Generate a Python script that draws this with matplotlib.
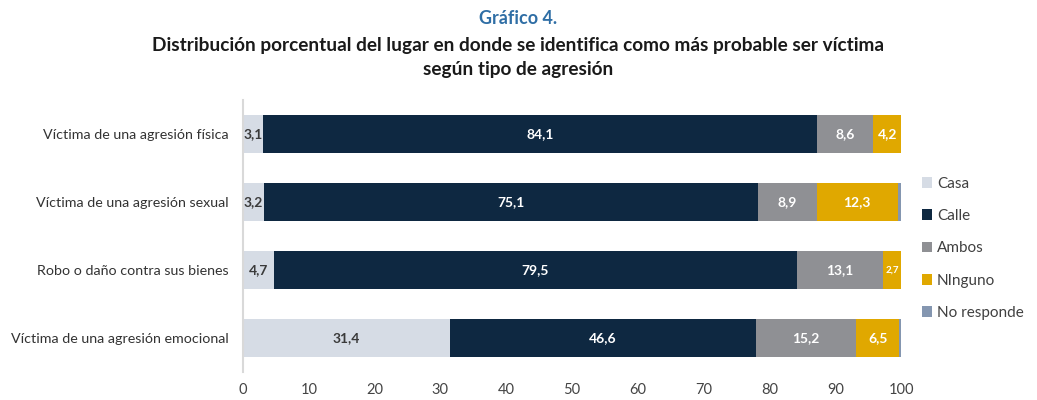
import numpy as np
import matplotlib.pyplot as plt
from matplotlib.patches import Patch

plt.rcParams['font.family'] = ['Lato', 'DejaVu Sans']

# data
categorias = ["Víctima de una agresión física",
              "Víctima de una agresión sexual",
              "Robo o daño contra sus bienes",
              "Víctima de una agresión emocional"]
series = ["Casa", "Calle", "Ambos", "NInguno", "No responde"]
casa = [3.1, 3.2, 4.7, 31.4]
calle = [84.1, 75.1, 79.5, 46.6]
ambos = [8.6, 8.9, 13.1, 15.2]
ninguno = [4.2, 12.3, 2.7, 6.5]
no_responde = [0.0, 0.5, 0.0, 0.3]

colores = ["#D6DCE5", "#0E2841", "#8F9094", "#E0A800", "#8496B0"]
txt_colores = ["#3A3A3A", "white", "white", "white", "white"]

fig = plt.figure(figsize=(10.37, 4.0), dpi=100)
ax = fig.add_axes([243 / 1037, 1 - 372 / 400, 658 / 1037, 272 / 400])

y = np.arange(len(categorias))
left = np.zeros(len(categorias))
for i, vals in enumerate([casa, calle, ambos, ninguno, no_responde]):
    vals = np.array(vals)
    ax.barh(y, vals, left=left, height=0.57, color=colores[i], edgecolor='none')
    if i < 4:
        for j, v in enumerate(vals):
            fs = 7 if v < 3 else 10
            ax.text(left[j] + v / 2, y[j], f"{v:.1f}".replace('.', ','),
                    ha='center', va='center', color=txt_colores[i],
                    fontsize=fs, fontweight='bold')
    left += vals

ax.set_xlim(0, 100)
ax.set_ylim(3.5, -0.5)
ax.set_yticks(y)
ax.set_yticklabels(categorias, fontsize=10.3, color='#333333')
ax.set_xticks(np.arange(0, 101, 10))
ax.tick_params(axis='x', length=0, labelsize=10.5, colors='#444444', pad=8)
ax.tick_params(axis='y', length=0, pad=10)
for s in ['top', 'right', 'bottom']:
    ax.spines[s].set_visible(False)
ax.spines['left'].set_color('#D9D9D9')
ax.spines['left'].set_linewidth(1.5)

handles = [Patch(facecolor=c, edgecolor='none') for c in colores]
fig.legend(handles, series, loc='upper left', bbox_to_anchor=(908 / 1037, 1 - 163 / 400),
           frameon=False, fontsize=11, labelcolor='#404040', handlelength=0.7,
           handleheight=0.7, handletextpad=0.3, labelspacing=1.2)

fig.text(0.5, 1 - 18 / 400, "Gráfico 4.", ha='center', va='center',
         fontsize=13, fontweight='bold', color='#2F6EA5')
fig.text(0.5, 1 - 45 / 400,
         "Distribución porcentual del lugar en donde se identifica como más probable ser víctima",
         ha='center', va='center', fontsize=13.7, fontweight='bold', color='#1A1A1A')
fig.text(0.5, 1 - 70 / 400, "según tipo de agresión",
         ha='center', va='center', fontsize=13.7, fontweight='bold', color='#1A1A1A')

fig.savefig("out.png", dpi=100)
